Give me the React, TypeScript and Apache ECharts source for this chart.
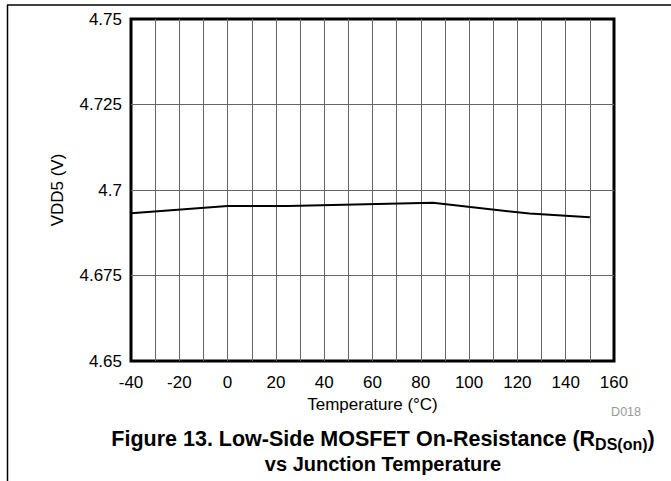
import React, { useEffect, useRef } from "react";
import * as echarts from "echarts";

const temps = [-40, 0, 25, 85, 125, 150];
const vdd5 = [4.6932, 4.6953, 4.6953, 4.6963, 4.6931, 4.692];
const xTicks = { min: -40, max: 160, interval: 10 };
const yTicks = { min: 4.65, max: 4.75, interval: 0.025 };
const xName = "Temperature (°C)";
const yName = "VDD5 (V)";
const titleLine1 = "{a|Figure 13. Low-Side MOSFET On-Resistance (R}{s|DS(on)}{a|)}";
const titleLine2 = "vs Junction Temperature";
const docId = "D018";

const FONT = "Arial, 'Liberation Sans', Helvetica, sans-serif";

export default function App() {
  const ref = useRef<HTMLDivElement>(null);
  useEffect(() => {
    if (!ref.current) return;
    const chart = echarts.init(ref.current, null, { renderer: "svg" });
    chart.setOption({
      animation: false,
      backgroundColor: "#fff",
      textStyle: { fontFamily: FONT },
      grid: {
        left: 131,
        right: 57,
        top: 19,
        bottom: 120,
        show: true,
        borderColor: "#000",
        borderWidth: 3,
        backgroundColor: "transparent",
      },
      xAxis: {
        type: "value",
        min: xTicks.min,
        max: xTicks.max,
        interval: xTicks.interval,
        name: xName,
        nameLocation: "middle",
        nameGap: 31,
        nameTextStyle: { fontSize: 17, color: "#000", fontFamily: FONT },
        axisLine: { show: false },
        axisTick: { show: false },
        axisLabel: {
          fontSize: 17,
          color: "#000",
          fontFamily: FONT,
          margin: 13,
          formatter: (v: number) => (Math.round(v) % 20 === 0 ? String(Math.round(v)) : ""),
        },
        splitLine: {
          show: true,
          showMinLine: false,
          showMaxLine: false,
          lineStyle: { color: "#666", width: 1 },
        },
      },
      yAxis: {
        type: "value",
        min: yTicks.min,
        max: yTicks.max,
        interval: yTicks.interval,
        name: yName,
        nameLocation: "middle",
        nameGap: 65,
        nameTextStyle: { fontSize: 17, color: "#000", fontFamily: FONT },
        axisLine: { show: false },
        axisTick: { show: false },
        axisLabel: {
          fontSize: 17,
          color: "#000",
          fontFamily: FONT,
          margin: 9,
          formatter: (v: number) => String(parseFloat(v.toFixed(3))),
        },
        splitLine: {
          show: true,
          showMinLine: false,
          showMaxLine: false,
          lineStyle: { color: "#666", width: 1 },
        },
      },
      series: [
        {
          type: "line",
          data: temps.map((t, i) => [t, vdd5[i]]),
          showSymbol: false,
          symbol: "none",
          lineStyle: { color: "#000", width: 2 },
          z: 5,
        },
      ],
      graphic: [
        {
          type: "line",
          shape: { x1: 7, y1: 5, x2: 671, y2: 5 },
          style: { stroke: "#000", lineWidth: 1.5 },
        },
        {
          type: "line",
          shape: { x1: 7.5, y1: 5, x2: 7.5, y2: 481 },
          style: { stroke: "#000", lineWidth: 1.5 },
        },
        {
          type: "text",
          x: 641,
          y: 412,
          style: {
            text: docId,
            fill: "#999",
            font: `12.5px ${FONT}`,
            align: "right",
            verticalAlign: "middle",
          },
        },
        {
          type: "text",
          x: 383,
          y: 439,
          style: {
            text: titleLine1,
            align: "center",
            verticalAlign: "middle",
            rich: {
              a: {
                fontSize: 21.5,
                fontWeight: "bold",
                fontFamily: FONT,
                fill: "#000",
                lineHeight: 26,
                verticalAlign: "middle",
              },
              s: {
                fontSize: 16,
                fontWeight: "bold",
                fontFamily: FONT,
                fill: "#000",
                lineHeight: 16,
                verticalAlign: "bottom",
              },
            },
          },
        },
        {
          type: "text",
          x: 383,
          y: 464,
          style: {
            text: titleLine2,
            fill: "#000",
            font: `bold 20px ${FONT}`,
            align: "center",
            verticalAlign: "middle",
          },
        },
      ],
    });
    return () => chart.dispose();
  }, []);
  return (
    <div
      ref={ref}
      style={{ position: "absolute", left: 0, top: 0, width: 671, height: 481 }}
    />
  );
}
